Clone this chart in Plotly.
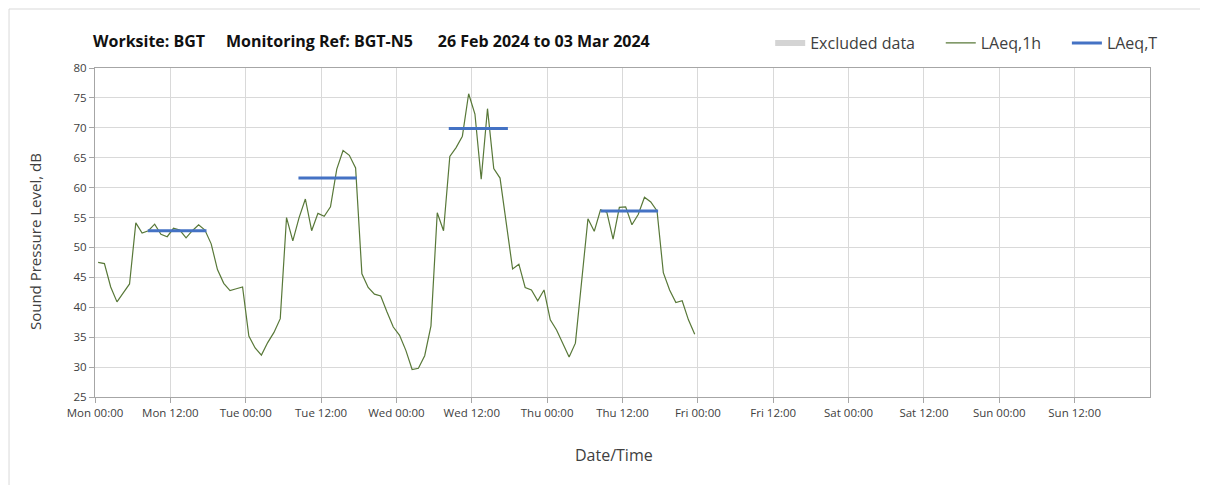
import plotly.graph_objects as go
import pandas as pd

# ---- data ----
start_time = "2024-02-26 00:30"   # first hourly sample (plotted mid-hour)
laeq_1h = [
    # Mon
    47.5, 47.3, 43.4, 40.9, 42.4, 43.9, 54.1, 52.4, 52.8, 53.9, 52.2, 51.8,
    53.2, 52.9, 51.6, 52.8, 53.8, 52.9, 50.6, 46.3, 44.0, 42.8, 43.1, 43.4,
    # Tue
    35.2, 33.2, 32.0, 34.1, 35.8, 38.1, 55.0, 51.1, 55.0, 58.1, 52.8, 55.7,
    55.2, 56.8, 63.1, 66.2, 65.4, 63.3, 45.6, 43.3, 42.2, 41.9, 39.2, 36.7,
    # Wed
    35.3, 32.8, 29.6, 29.8, 31.9, 36.9, 55.8, 52.8, 65.2, 66.7, 68.6, 75.7,
    72.3, 61.4, 73.2, 63.2, 61.6, 53.6, 46.4, 47.2, 43.3, 42.9, 41.1, 42.9,
    # Thu
    37.9, 36.2, 34.0, 31.7, 34.0, 44.5, 54.8, 52.7, 56.3, 55.9, 51.4, 56.7,
    56.8, 53.8, 55.5, 58.4, 57.6, 56.1, 45.8, 42.9, 40.8, 41.1, 37.9, 35.5,
]
laeq_t_start = ["2024-02-26 08:24", "2024-02-27 08:24", "2024-02-28 08:20", "2024-02-29 08:30"]
laeq_t_end = ["2024-02-26 17:45", "2024-02-27 17:40", "2024-02-28 17:45", "2024-02-29 17:40"]
laeq_t = [52.8, 61.6, 69.9, 56.1]

y_ticks = [25, 30, 35, 40, 45, 50, 55, 60, 65, 70, 75, 80]
x_range = ["2024-02-26 00:00", "2024-03-04 00:00"]
x_tick_start = "2024-02-26 00:00"
x_tick_count = 14   # Mon 00:00 ... Sun 12:00, every 12 h

NB = "\u00a0"
title_text = ("Worksite: BGT" + NB * 5 + "Monitoring Ref: BGT-N5"
              + NB * 6 + "26 Feb 2024 to 03 Mar 2024")
legend_names = ["Excluded data", "LAeq,1h", "LAeq,T"]
x_title = "Date/Time"
y_title = "Sound Pressure Level, dB"

# ---- build ----
times = pd.date_range(start=start_time, periods=len(laeq_1h), freq="h")
x_tickvals = pd.date_range(start=x_tick_start, periods=x_tick_count, freq="12h")

seg_x, seg_y = [], []
for s, e, v in zip(laeq_t_start, laeq_t_end, laeq_t):
    seg_x += [s, e, None]
    seg_y += [v, v, None]

FONT = "'Open Sans', Lato, sans-serif"
TXT = "#404040"

fig = go.Figure()
fig.add_trace(go.Scatter(
    x=[None], y=[None], name=legend_names[0] + NB * 5, mode="none",
    fill="toself", fillcolor="#d4d4d4", showlegend=True,
))
fig.add_trace(go.Scatter(
    x=times, y=laeq_1h, name=legend_names[1] + NB * 5, mode="lines",
    line=dict(color="#587838", width=1.2),
))
fig.add_trace(go.Scatter(
    x=seg_x, y=seg_y, name=legend_names[2], mode="lines",
    line=dict(color="#4472c4", width=3),
))

axis_common = dict(
    showline=True, linecolor="#a6a6a6", linewidth=1, mirror=True,
    showgrid=True, gridcolor="#d9d9d9", gridwidth=1,
    ticks="outside", tickcolor="#a6a6a6", ticklen=5,
    tickfont=dict(family=FONT, size=11.5, color=TXT),
    zeroline=False,
)

fig.update_xaxes(
    **axis_common,
    type="date", range=x_range, tickvals=x_tickvals,
    tickformat="%a %H:%M",
)
fig.update_yaxes(
    **axis_common,
    range=[25, 80], tickvals=y_ticks, ticktext=[str(v) for v in y_ticks],
)

fig.update_layout(
    width=1208, height=485,
    margin=dict(l=87, r=66, t=60, b=96, autoexpand=False),
    paper_bgcolor="white", plot_bgcolor="white",
    font=dict(family=FONT, color=TXT),
    title=dict(text="<b>" + title_text + "</b>", x=85 / 1208, xanchor="left",
               y=1 - 33 / 485, yanchor="middle",
               font=dict(family=FONT, size=16, color="#111111")),
    legend=dict(orientation="h", x=0.64, xanchor="left", y=1.076, yanchor="middle",
                font=dict(family=FONT, size=16, color=TXT), bgcolor="rgba(0,0,0,0)",
                traceorder="normal"),
    showlegend=True,
    annotations=[
        dict(text=x_title, xref="paper", yref="paper", x=0.492, y=-0.176,
             xanchor="center", yanchor="middle", showarrow=False,
             font=dict(family=FONT, size=16, color=TXT)),
        dict(text=y_title, xref="paper", yref="paper", x=-0.0569, y=0.474,
             xanchor="center", yanchor="middle", showarrow=False, textangle=-90,
             font=dict(family=FONT, size=15, color=TXT)),
    ],
    shapes=[dict(type="rect", xref="paper", yref="paper",
                 x0=-0.0815, x1=1.2, y0=-0.5, y1=1.1793,
                 line=dict(color="#d9d9d9", width=1), fillcolor="rgba(0,0,0,0)", layer="below")],
)

fig.write_html("out.html")
